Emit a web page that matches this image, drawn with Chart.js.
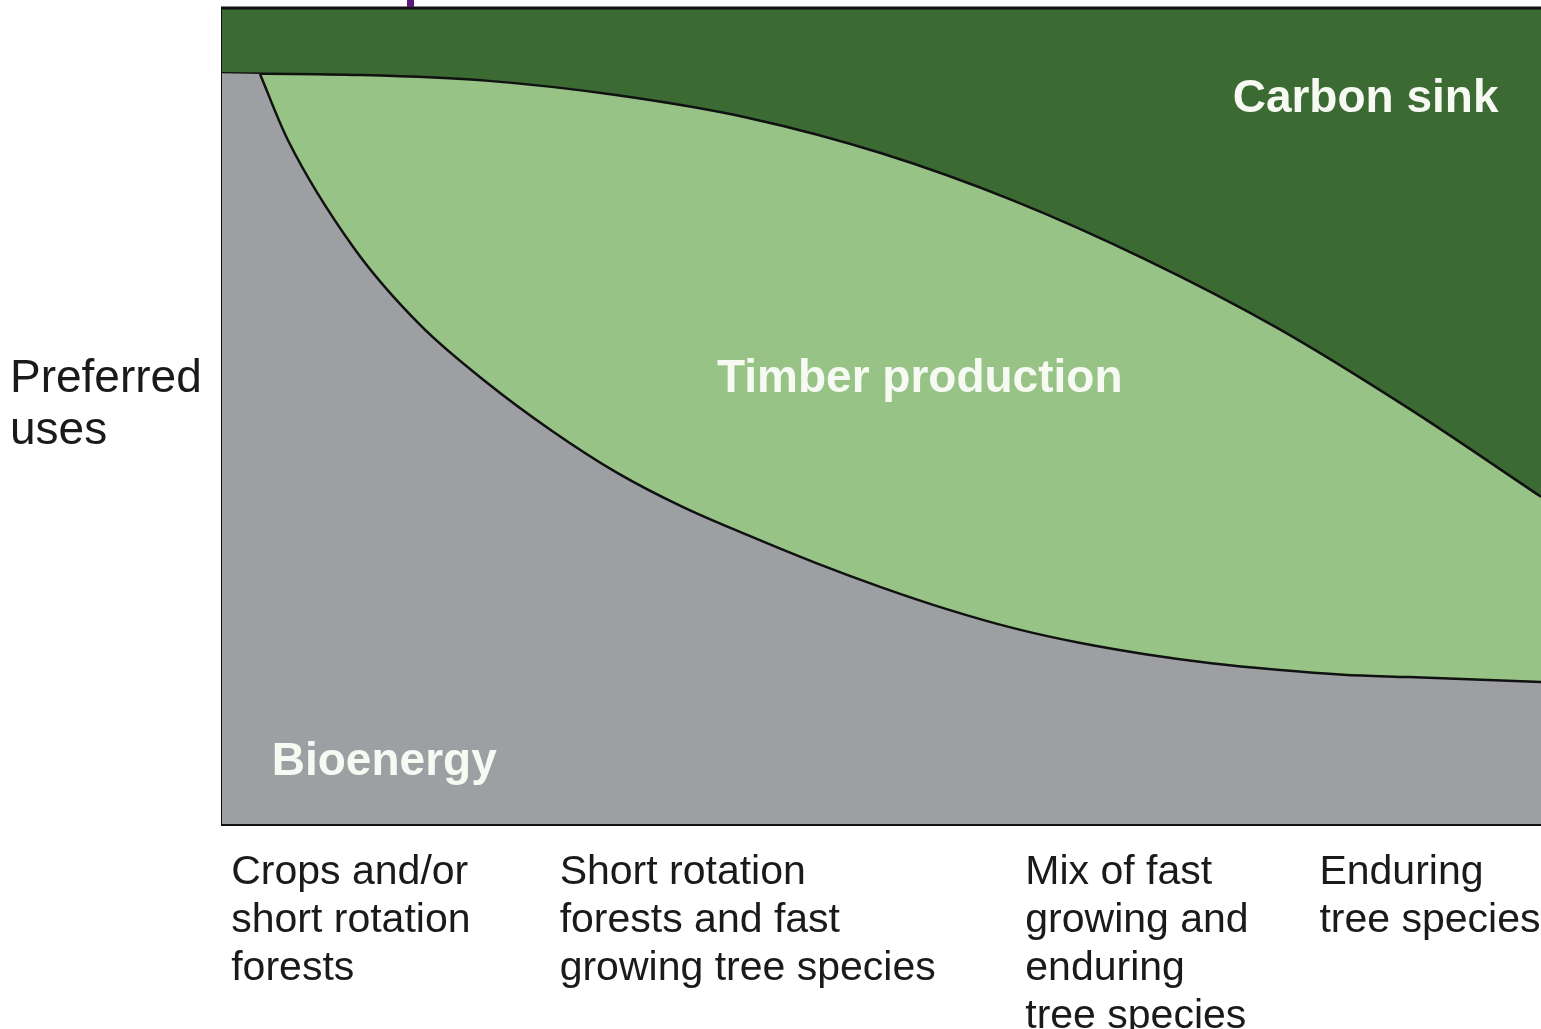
<!DOCTYPE html>
<html>
<head>
<meta charset="utf-8">
<script src="https://cdn.jsdelivr.net/npm/chart.js@4.4.1/dist/chart.umd.min.js"></script>
<style>
  html, body { margin: 0; padding: 0; background: #fff; }
  #wrap { width: 1541px; height: 1029px; }
</style>
</head>
<body>
<div id="wrap"><canvas id="usesChart"></canvas></div>
<script>
// curves (x: 0-100 across, y: 0-100 up)
const timberX = [0, 10, 20, 30, 40, 50, 60, 70, 80, 90, 100];
const timberTop = [92.0, 91.8, 91.1, 89.3, 86.5, 82.2, 76.4, 69.2, 60.8, 50.9, 40.1];
const bioX = [2.88, 5, 10, 15, 20, 25, 30, 35, 40, 45, 50, 55, 60, 65, 70, 75, 80, 85, 90, 95, 100];
const bioTop = [91.9, 83.8, 70.6, 61.2, 54.2, 48.2, 43.0, 38.8, 35.3, 32.0, 29.0, 26.3, 24.0, 22.2, 20.8, 19.7, 18.9, 18.3, 18.0, 17.7, 17.4];
const bioCornerX = [0, 3.0];
const bioCornerTop = [92.0, 91.9];

const xTickValues = [0.7, 25.6, 60.9, 83.2];
const xTickLabels = [
    ['Crops and/or', 'short rotation', 'forests'],
    ['Short rotation', 'forests and fast', 'growing tree species'],
    ['Mix of fast', 'growing and', 'enduring', 'tree species'],
    ['Enduring', 'tree species']
];
const yTickValue = 51.3;
const yTickLabel = ['Preferred', 'uses'];

const regionNames = ['Carbon sink', 'Timber production', 'Bioenergy'];
const regionX = [86.7, 52.9, 12.3];
const regionY = [88.8, 54.5, 7.5];

const toPoints = (xs, ys) => xs.map((x, i) => ({ x: x, y: ys[i] }));

const DARK = '#3b6a33';
const LIGHT = '#97c486';
const GREY = '#9d9fa2';

const areaPlugin = {
    id: 'areaPlugin',
    beforeDatasetsDraw(chart) {
        const a = chart.chartArea;
        const c = chart.ctx;
        c.save();
        c.fillStyle = DARK;
        c.fillRect(a.left, a.top, a.right - a.left, a.bottom - a.top);
        c.restore();
    },
    afterDraw(chart) {
        const a = chart.chartArea;
        const c = chart.ctx;
        const xs = chart.scales.x, ys = chart.scales.y;
        c.save();
        // top frame line
        c.strokeStyle = '#111';
        c.lineWidth = 3;
        c.beginPath();
        c.moveTo(a.left - 1, a.top);
        c.lineTo(a.right, a.top);
        c.stroke();
        // little purple tick above the frame
        c.fillStyle = '#5b1a78';
        c.fillRect(407, 0, 7, a.top - 1);
        // region names
        c.fillStyle = '#f7faf3';
        c.font = 'bold 46px "Liberation Sans", Arial, sans-serif';
        c.textAlign = 'center';
        c.textBaseline = 'middle';
        regionNames.forEach((t, i) => {
            c.fillText(t, xs.getPixelForValue(regionX[i]), ys.getPixelForValue(regionY[i]));
        });
        c.restore();
    }
};

const ctx = document.getElementById('usesChart').getContext('2d');
const usesChart = new Chart(ctx, {
    type: 'line',
    data: {
        datasets: [{
            label: 'Bioenergy',
            data: toPoints(bioX, bioTop),
            borderColor: '#111',
            borderWidth: 2.5,
            backgroundColor: GREY,
            fill: 'start',
            pointRadius: 0,
            cubicInterpolationMode: 'monotone'
        }, {
            label: 'Bioenergy corner',
            data: toPoints(bioCornerX, bioCornerTop),
            borderWidth: 0,
            backgroundColor: GREY,
            fill: 'start',
            pointRadius: 0,
            tension: 0
        }, {
            label: 'Timber production',
            data: toPoints(timberX, timberTop),
            borderColor: '#111',
            borderWidth: 2.5,
            backgroundColor: LIGHT,
            fill: 'start',
            pointRadius: 0,
            cubicInterpolationMode: 'monotone'
        }]
    },
    options: {
        responsive: true,
        maintainAspectRatio: false,
        animation: false,
        layout: { padding: { top: 8, left: 10, right: 0, bottom: 0 } },
        plugins: {
            legend: { display: false },
            tooltip: { enabled: false }
        },
        scales: {
            x: {
                type: 'linear',
                min: 0,
                max: 100,
                grid: { display: false },
                border: { display: true, color: '#111', width: 3 },
                afterBuildTicks: (s) => { s.ticks = xTickValues.map(v => ({ value: v })); },
                afterFit: (s) => { s.height = 205; s.paddingLeft = 0; s.paddingRight = 0; },
                ticks: {
                    align: 'start',
                    maxRotation: 0,
                    autoSkip: false,
                    padding: 17,
                    color: '#1a1a1a',
                    font: { family: '"Liberation Sans", Arial, sans-serif', size: 41, lineHeight: 1.17 },
                    callback: (v, i) => xTickLabels[i]
                }
            },
            y: {
                min: 0,
                max: 100,
                grid: { display: false },
                border: { display: true, color: '#111', width: 3 },
                afterBuildTicks: (s) => { s.ticks = [{ value: yTickValue }]; },
                afterFit: (s) => { s.width = 212; s.paddingTop = 0; s.paddingBottom = 0; },
                ticks: {
                    crossAlign: 'far',
                    color: '#1a1a1a',
                    font: { family: '"Liberation Sans", Arial, sans-serif', size: 46, lineHeight: 1.13 },
                    callback: () => yTickLabel
                }
            }
        }
    },
    plugins: [areaPlugin]
});
</script>
</body>
</html>
